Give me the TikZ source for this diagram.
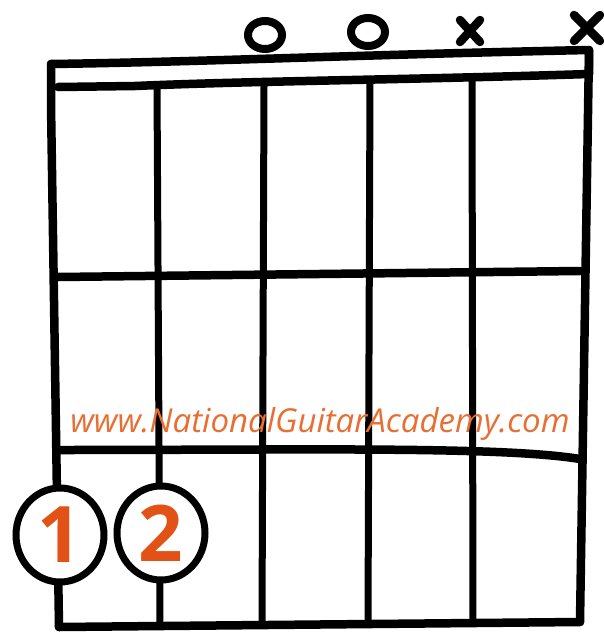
\documentclass[tikz,border=0pt]{standalone}
\usepackage{fontspec}
\setmainfont{Open Sans}
\usetikzlibrary{shapes.geometric}
\definecolor{wmark}{RGB}{232,110,50}
\definecolor{digit}{RGB}{226,82,22}
\tikzset{
  ink/.style={line width=8.5pt, black, line cap=round, line join=round},
  strng/.style={line width=7pt, black, line cap=round},
  finger/.style={ellipse, draw=black, line width=7pt, fill=white, minimum width=88pt, minimum height=94pt, inner sep=0pt, text=digit, font=\fontsize{78}{78}\selectfont\bfseries},
  openmark/.style={ellipse, draw=black, line width=8pt, minimum width=34pt, minimum height=28pt, inner sep=0pt},
}
\begin{document}
\begin{tikzpicture}[x=1pt,y=-1pt]
\useasboundingbox[fill=white] (0,0) rectangle (603,632);
% coordinates
\coordinate (nutTL) at (51,64);
\coordinate (nutTR) at (589,50);
\coordinate (nutBL) at (58,87);
\coordinate (nutBR) at (589,74);
\coordinate (botL) at (59,627);
\coordinate (botR) at (580,622);
\coordinate (s5t) at (157,86);  \coordinate (s5b) at (160,626);
\coordinate (s4t) at (264,86);  \coordinate (s4b) at (262,625);
\coordinate (s3t) at (370,82);  \coordinate (s3b) at (368,624);
\coordinate (s2t) at (472,80);  \coordinate (s2b) at (473,622);
\coordinate (f1L) at (58,277);  \coordinate (f1R) at (580,271);
\coordinate (f2L) at (58,450);  \coordinate (f2R) at (580,459);
% nut
\draw[ink] (nutTL) .. controls (200,62) and (350,55) .. (nutTR) -- (nutBR);
\draw[ink] (nutBL) -- (135,86) .. controls (250,81) and (400,80) .. (nutBR);
% borders
\draw[ink] (nutTL) -- (51,105) -- (botL);
\draw[ink] (nutTR) -- (botR);
\draw[ink] (botL) -- (botR);
% strings
\draw[strng] (s5t) -- (s5b);
\draw[strng] (s4t) -- (s4b);
\draw[strng] (s3t) -- (s3b);
\draw[strng] (s2t) -- (s2b);
% frets
\draw[ink] (f1L) -- (f1R);
\draw[ink] (f2L) .. controls (300,450) and (500,446) .. (f2R);
% watermark
\node[text=wmark, font=\fontsize{33}{33}\selectfont\itshape] (wm) at (320,424) {www.NationalGuitarAcademy.com};
% fingers
\node[finger] (n1) at (60,535) {1};
\node[finger] (n2) at (161,533) {2};
% open / muted marks
\node[openmark] (o4) at (265,35) {};
\node[openmark] (o3) at (368,32) {};
\coordinate (x2) at (470,31);
\coordinate (x1) at (587,28);
\draw[ink] ([shift={(-10,-11)}]x2) -- ([shift={(10,11)}]x2);
\draw[ink] ([shift={(-10,11)}]x2) -- ([shift={(10,-11)}]x2);
\draw[ink] ([shift={(-13,-13)}]x1) -- ([shift={(13,13)}]x1);
\draw[ink] ([shift={(-13,13)}]x1) -- ([shift={(13,-13)}]x1);
\end{tikzpicture}
\end{document}
